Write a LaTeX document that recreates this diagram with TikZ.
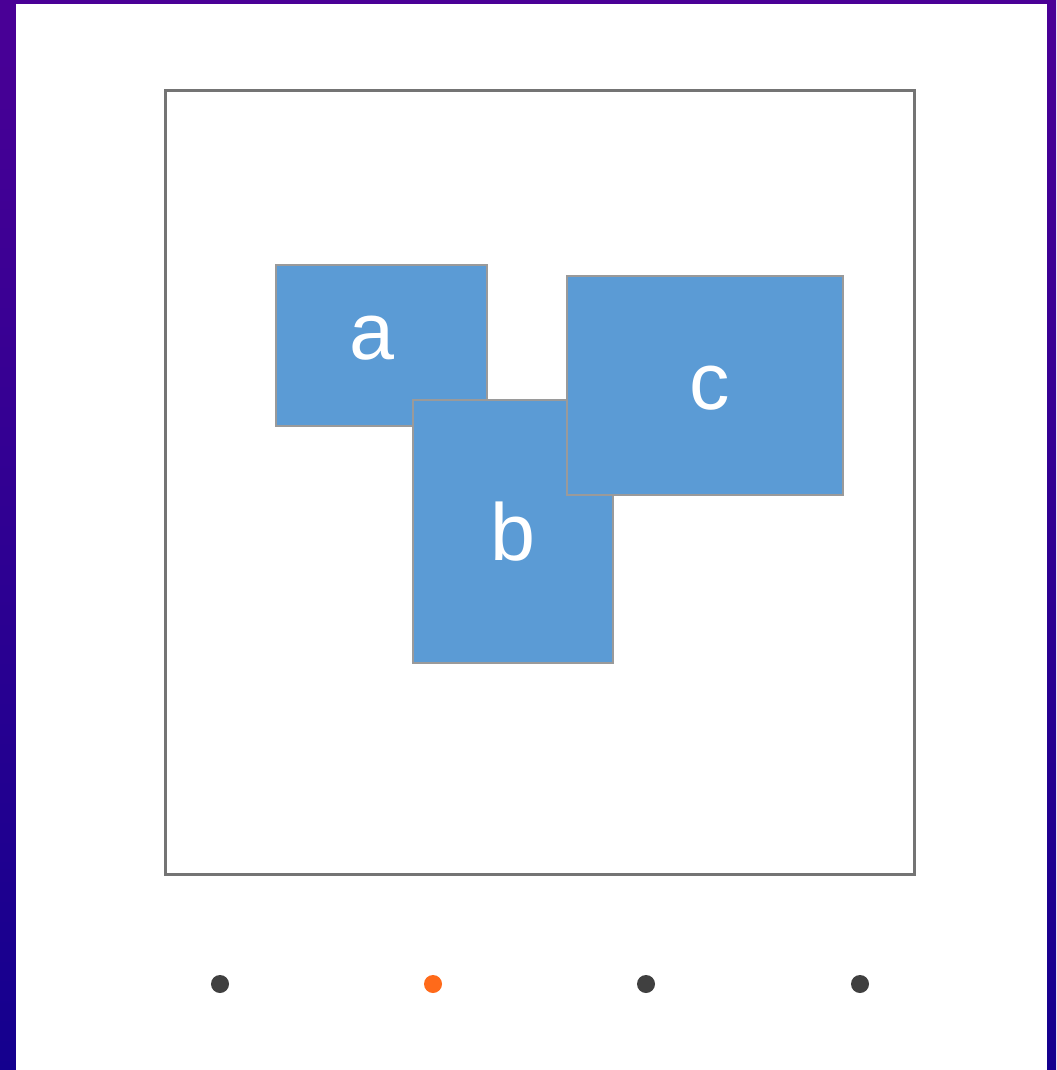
\documentclass[tikz,border=0pt]{standalone}
\usepackage{fontspec}
\setmainfont{Liberation Sans}
\usetikzlibrary{positioning}
\definecolor{bgtop}{HTML}{4A0096}
\definecolor{bgbot}{HTML}{14008E}
\definecolor{frame}{HTML}{747474}
\definecolor{tile}{HTML}{5B9BD5}
\definecolor{tileedge}{HTML}{9A9A9A}
\definecolor{dotdark}{HTML}{404040}
\definecolor{dotlit}{HTML}{FF6A1A}

\begin{document}
\begin{tikzpicture}[x=0.01cm,y=-0.01cm,
    tilebox/.style={rectangle,fill=tile,draw=tileedge,line width=0.6pt,inner sep=0pt},
    tilelabel/.style={inner sep=0pt,text=white,font=\fontsize{23}{28}\selectfont},
    navdot/.style={circle,inner sep=0pt,minimum size=0.18cm}]
  % background and white panel
  \shade[top color=bgtop,bottom color=bgbot] (0,0) rectangle (1056,1070);
  \fill[white] (16,4) rectangle (1047,1070);
  \useasboundingbox (0,0) rectangle (1056,1070);
  % frame
  \node[draw=frame,line width=0.75pt,minimum width=7.48cm,minimum height=7.83cm,inner sep=0pt] (frame) at (540,482.5) {};
  % tiles, back to front
  \node[tilebox,minimum width=2.11cm,minimum height=1.61cm] (boxa) at (381.5,345.5) {};
  \node[tilelabel] (labela) at ([xshift=-0.1cm,yshift=0.07cm]boxa.center) {a};
  \node[tilebox,minimum width=2.00cm,minimum height=2.63cm] (boxb) at (513,531.5) {};
  \node[tilelabel] (labelb) at (boxb.center) {b};
  \node[tilebox,minimum width=2.76cm,minimum height=2.19cm] (boxc) at (705,385.5) {};
  \node[tilelabel] (labelc) at ([xshift=0.05cm,yshift=-0.03cm]boxc.center) {c};
  % page dots
  \node[navdot,fill=dotdark] (dot1) at (220,984) {};
  \node[navdot,fill=dotlit] (dot2) at (433,984) {};
  \node[navdot,fill=dotdark] (dot3) at (646,984) {};
  \node[navdot,fill=dotdark] (dot4) at (860,984) {};
\end{tikzpicture}
\end{document}
